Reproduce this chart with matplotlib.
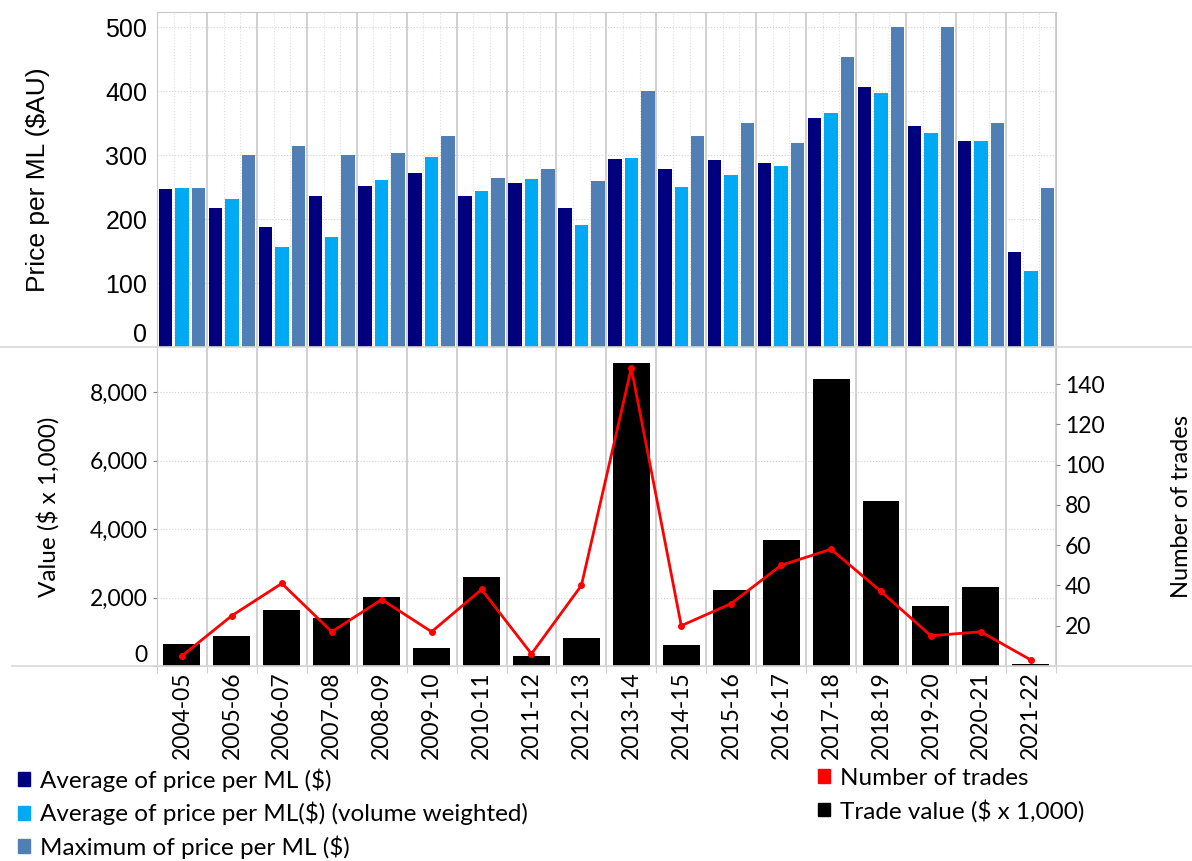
#!/usr/bin/env python3

import numpy as np
import matplotlib
matplotlib.use("Agg")
import matplotlib.pyplot as plt
from matplotlib.patches import Patch
from matplotlib.lines import Line2D
from matplotlib.ticker import FuncFormatter

years = ["2004-05", "2005-06", "2006-07", "2007-08", "2008-09", "2009-10",
         "2010-11", "2011-12", "2012-13", "2013-14", "2014-15", "2015-16",
         "2016-17", "2017-18", "2018-19", "2019-20", "2020-21", "2021-22"]

avg_price = [247, 217, 188, 236, 252, 272, 236, 257, 217, 294, 279, 292,
             288, 359, 406, 345, 323, 148]
avg_price_vw = [248, 232, 157, 172, 261, 297, 244, 263, 191, 295, 251, 269,
                283, 366, 398, 335, 322, 119]
max_price = [248, 300, 314, 300, 304, 330, 264, 279, 260, 401, 330, 350,
             319, 453, 500, 500, 351, 248]

trade_value = [630, 880, 1630, 1400, 2020, 530, 2600, 300, 810, 8850, 620,
               2210, 3670, 8390, 4830, 1750, 2320, 70]
num_trades = [5, 25, 41, 17, 33, 17, 38, 6, 40, 148, 20, 31, 50, 58, 37,
              15, 17, 3]

NAVY = "#00007F"
SKY = "#00A9F4"
STEEL = "#4F7FB4"
GRID = "#C8C8C8"

x = np.arange(len(years))

fig = plt.figure(figsize=(11.92, 8.61), dpi=100)

# top panel: prices
ax1 = fig.add_axes([0.1317, 0.597, 0.754, 0.389])
ax1.bar(x - 0.33, avg_price, 0.27, color=NAVY, zorder=3)
ax1.bar(x, avg_price_vw, 0.27, color=SKY, zorder=3)
ax1.bar(x + 0.33, max_price, 0.27, color=STEEL, zorder=3)
ax1.set_xlim(-0.5, len(years) - 0.5)
ax1.set_ylim(0, 524)
ax1.set_yticks([0, 100, 200, 300, 400, 500])
ax1.set_xticks([])
for b in np.arange(-0.5, len(years), 1.0):
    ax1.axvline(b, color=GRID, lw=1.2, zorder=1)
for i in x:
    for off in (-0.165, 0.165):
        ax1.axvline(i + off, color="#DDDDDD", lw=0.8, ls=":", zorder=1)
ax1.grid(axis="y", color="#D0D0D0", lw=0.8, ls=":", zorder=1)
ax1.tick_params(axis="y", length=0, labelsize=18, pad=7)
for lab in ax1.get_yticklabels():
    lab.set_family("Liberation Sans")
ax1.get_yticklabels()[0].set_va("bottom")
for s in ("left", "top", "right"):
    ax1.spines[s].set_color(GRID)
ax1.spines["bottom"].set_visible(False)
ax1.set_ylabel("Price per ML ($AU)", fontsize=19, family="Liberation Sans",
               labelpad=40)

# bottom panel: trade value and number of trades
ax2 = fig.add_axes([0.1317, 0.2265, 0.754, 0.3695])
ax2.bar(x, trade_value, 0.74, color="black", zorder=3)
ax2.set_xlim(-0.5, len(years) - 0.5)
ax2.set_ylim(0, 9300)
ax2.set_yticks([0, 2000, 4000, 6000, 8000])
ax2.yaxis.set_major_formatter(FuncFormatter(lambda v, p: f"{int(v):,}"))
ax2.set_xticks(x)
ax2.set_xticklabels(years, rotation=90, family="Lato", fontsize=16.5)
ax2.set_xticks(np.arange(-0.5, len(years), 1.0), minor=True)
ax2.tick_params(axis="x", which="major", length=0, pad=4)
ax2.tick_params(axis="x", which="minor", length=5, color=GRID)
ax2.tick_params(axis="y", length=3, color="#888888", labelsize=16.5)
for lab in ax2.get_yticklabels():
    lab.set_family("Lato")
ax2.get_yticklabels()[0].set_va("bottom")
for b in np.arange(-0.5, len(years), 1.0):
    ax2.axvline(b, color=GRID, lw=1.2, zorder=1)
ax2.grid(axis="y", color="#D0D0D0", lw=0.8, ls=":", zorder=1)
for s in ax2.spines.values():
    s.set_color(GRID)
ax2.spines["top"].set_visible(False)
ax2.set_ylabel("Value ($ x 1,000)", fontsize=17.5, family="Lato", labelpad=22)

ax3 = ax2.twinx()
ax3.plot(x, num_trades, color="#FF0000", lw=2, marker="o", ms=4, zorder=4)
ax3.set_ylim(0, 158)
ax3.set_yticks([20, 40, 60, 80, 100, 120, 140])
ax3.tick_params(axis="y", length=3, color="#888888", labelsize=16.5)
for lab in ax3.get_yticklabels():
    lab.set_family("Lato")
for s in ax3.spines.values():
    s.set_visible(False)
ax3.set_ylabel("Number of trades", fontsize=17, family="Lato", labelpad=48)

# full-width separator lines
fig.add_artist(Line2D([0, 1], [1 - 347 / 861] * 2, color="#D8D8D8", lw=1.2))
fig.add_artist(Line2D([0.01, 1], [1 - 666 / 861] * 2, color="#D8D8D8", lw=1.2))

leg_font = {"family": "Lato", "size": 17.5}
left_handles = [Patch(color=NAVY, label="Average of price per ML ($)"),
                Patch(color=SKY, label="Average of price per ML($) (volume weighted)"),
                Patch(color=STEEL, label="Maximum of price per ML ($)")]
right_handles = [Patch(color="#FF0000", label="Number of trades"),
                 Patch(color="black", label="Trade value ($ x 1,000)")]
fig.legend(handles=left_handles, loc="upper left",
           bbox_to_anchor=(0.015, 1 - 768 / 861), frameon=False, prop=leg_font,
           handlelength=0.5, handleheight=0.5, handletextpad=0.4,
           labelspacing=0.42, borderaxespad=0, borderpad=0)
fig.legend(handles=right_handles, loc="upper left",
           bbox_to_anchor=(0.686, 1 - 768 / 861), frameon=False, prop=leg_font,
           handlelength=0.5, handleheight=0.5, handletextpad=0.4,
           labelspacing=0.42, borderaxespad=0, borderpad=0)

fig.savefig("out.png", dpi=100)
